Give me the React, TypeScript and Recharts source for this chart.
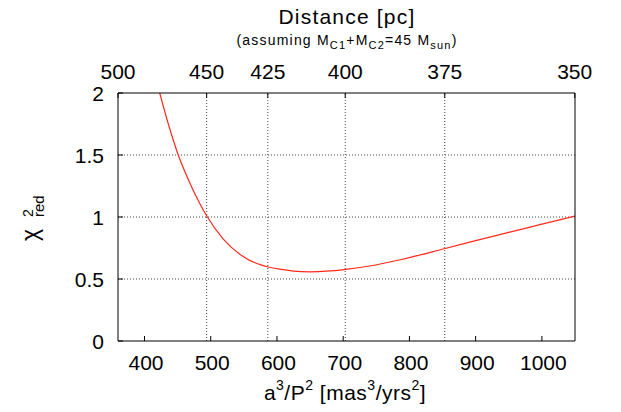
import React from 'react';
import { LineChart, Line, XAxis, YAxis, ReferenceLine } from 'recharts';

// a^3/P^2 [mas^3/yrs^2] and reduced chi^2
const ratioValues = [423, 436, 451, 470, 495, 519, 544, 555, 566, 577, 587, 604, 625, 650, 675, 704, 740, 786, 854, 900, 950, 1000, 1050];
const chi2Values = [2.0, 1.75, 1.5, 1.257, 1.0, 0.822, 0.7, 0.662, 0.633, 0.612, 0.597, 0.579, 0.564, 0.558, 0.563, 0.578, 0.605, 0.655, 0.746, 0.809, 0.876, 0.942, 1.008];

const bottomTicks = [400, 500, 600, 700, 800, 900, 1000];
const yTicks = [0, 0.5, 1, 1.5, 2];
const gridYValues = [0.5, 1, 1.5];
const distanceTicks = [500, 450, 425, 400, 375, 350];
const totalMass = 45;
const xDomain = [360, 1050];

const data = ratioValues.map((r, i) => ({ r, chi2: chi2Values[i] }));
const distanceToRatio = (d: number) => totalMass * Math.pow(1000 / d, 3);
const ratioToDistance = (v: number) => Math.round(1000 * Math.cbrt(totalMass / v));
const topTickPositions = distanceTicks.map(distanceToRatio);
const gridXValues = topTickPositions.slice(1, -1);

const FONT = '"Liberation Sans", Arial, Helvetica, sans-serif';

const BottomTick = (props: any) => {
  const { x, y, payload } = props;
  return (
    <g>
      <line x1={x} y1={y} x2={x} y2={y - 5} stroke="#000" />
      <text x={x + 1.5} y={y + 29} textAnchor="middle" fontSize={21} fontFamily={FONT} fill="#000">
        {payload.value}
      </text>
    </g>
  );
};

const TopTick = (props: any) => {
  const { x, y, payload } = props;
  return (
    <g>
      <line x1={x} y1={y} x2={x} y2={y + 5} stroke="#000" />
      <text x={x} y={y - 14} textAnchor="middle" fontSize={21} fontFamily={FONT} fill="#000">
        {ratioToDistance(payload.value)}
      </text>
    </g>
  );
};

const LeftTick = (props: any) => {
  const { x, y, payload } = props;
  return (
    <g>
      <line x1={x} y1={y} x2={x + 5} y2={y} stroke="#000" />
      <text x={x - 14} y={y + 7.5} textAnchor="end" fontSize={21} fontFamily={FONT} fill="#000">
        {payload.value}
      </text>
    </g>
  );
};

const RightTick = (props: any) => {
  const { x, y } = props;
  return <line x1={x} y1={y} x2={x - 5} y2={y} stroke="#000" />;
};

const TopTitles = () => (
  <g fontFamily={FONT} fill="#000">
    <text x={347} y={24} textAnchor="middle" fontSize={21} letterSpacing={1.2}>
      Distance [pc]
    </text>
    <text x={347} y={45} textAnchor="middle" fontSize={14} letterSpacing={1.2}>
      <tspan>(assuming M</tspan>
      <tspan fontSize={11} dy={4}>C1</tspan>
      <tspan dy={-4}>+M</tspan>
      <tspan fontSize={11} dy={4}>C2</tspan>
      <tspan dy={-4}>=45 M</tspan>
      <tspan fontSize={11} dy={4}>sun</tspan>
      <tspan dy={-4}>)</tspan>
    </text>
  </g>
);

const BottomTitle = () => (
  <text x={345} y={400} textAnchor="middle" fontSize={21} fontFamily={FONT} fill="#000" letterSpacing={0.5}>
    <tspan>a</tspan>
    <tspan fontSize={14} dy={-10}>3</tspan>
    <tspan dy={10}>/P</tspan>
    <tspan fontSize={14} dy={-10}>2</tspan>
    <tspan dy={10}> [mas</tspan>
    <tspan fontSize={14} dy={-10}>3</tspan>
    <tspan dy={10}>/yrs</tspan>
    <tspan fontSize={14} dy={-10}>2</tspan>
    <tspan dy={10}>]</tspan>
  </text>
);

const LeftTitle = () => (
  <g fontFamily={FONT} fill="#000">
    <text transform="translate(38,241) rotate(-90)" x={0} y={0} fontSize={23}>χ</text>
    <text transform="translate(38,241) rotate(-90)" x={24} y={-5} fontSize={14}>2</text>
    <text transform="translate(38,241) rotate(-90)" x={24} y={6} fontSize={15}>red</text>
  </g>
);

export default function App() {
  return (
    <div style={{ position: 'absolute', left: 0, top: 0, width: 621, height: 412, background: '#fff' }}>
      <LineChart width={621} height={412} data={data} margin={{ top: 0, right: 0, bottom: 0, left: 0 }}>
        <XAxis
          xAxisId="b"
          dataKey="r"
          type="number"
          orientation="bottom"
          domain={xDomain}
          ticks={bottomTicks}
          interval={0}
          allowDataOverflow
          height={71}
          tickSize={0}
          tickMargin={0}
          tickLine={false}
          axisLine={{ stroke: '#000' }}
          tick={<BottomTick />}
          label={() => <BottomTitle />}
        />
        <XAxis
          xAxisId="t"
          dataKey="r"
          type="number"
          orientation="top"
          domain={xDomain}
          ticks={topTickPositions}
          interval={0}
          allowDataOverflow
          height={93}
          tickSize={0}
          tickMargin={0}
          tickLine={false}
          axisLine={{ stroke: '#000' }}
          tick={<TopTick />}
          label={() => <TopTitles />}
        />
        <YAxis
          yAxisId="l"
          type="number"
          orientation="left"
          domain={[0, 2]}
          ticks={yTicks}
          interval={0}
          allowDataOverflow
          width={118}
          tickSize={0}
          tickMargin={0}
          tickLine={false}
          axisLine={{ stroke: '#000' }}
          tick={<LeftTick />}
          label={() => <LeftTitle />}
        />
        <YAxis
          yAxisId="r"
          type="number"
          orientation="right"
          domain={[0, 2]}
          ticks={gridYValues}
          interval={0}
          width={46}
          tickSize={0}
          tickMargin={0}
          tickLine={false}
          axisLine={{ stroke: '#000' }}
          tick={<RightTick />}
        />
        {gridXValues.map((v) => (
          <ReferenceLine key={'gx' + v} x={v} xAxisId="b" yAxisId="l" stroke="#444" strokeDasharray="1 2" />
        ))}
        {gridYValues.map((v) => (
          <ReferenceLine key={'gy' + v} y={v} xAxisId="b" yAxisId="l" stroke="#444" strokeDasharray="1 2" />
        ))}
        <Line
          xAxisId="b"
          yAxisId="l"
          type="monotone"
          dataKey="chi2"
          stroke="#ff2a1a"
          strokeWidth={1.2}
          dot={false}
          isAnimationActive={false}
        />
      </LineChart>
    </div>
  );
}
